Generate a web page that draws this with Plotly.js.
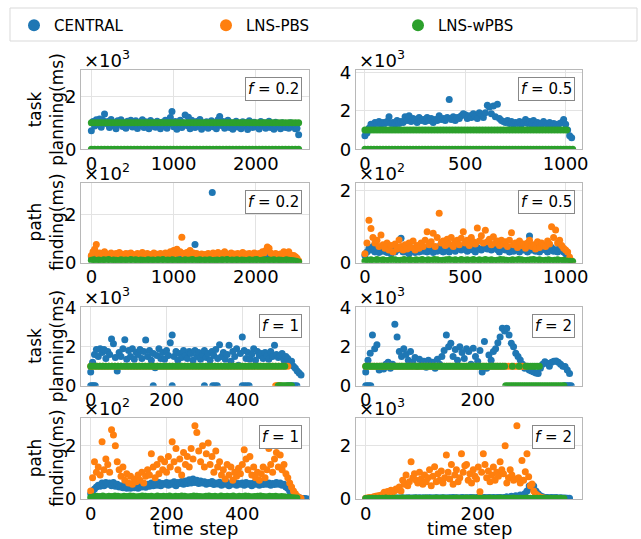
<!DOCTYPE html>
<html><head><meta charset="utf-8">
<script src="https://cdn.plot.ly/plotly-3.0.1.min.js"></script>
<style>html,body{margin:0;padding:0;background:#fff;}#chart{width:641px;height:539px;}</style>
</head><body><div id="chart"></div>
<script>
// ---------- DATA ----------
const seriesNames = ['CENTRAL', 'LNS-PBS', 'LNS-wPBS'];
const panelLabels = ['0.2', '0.5', '0.2', '0.5', '1', '2', '1', '2'];
const offsetTexts = ['×10<sup>3</sup>', '×10<sup>3</sup>', '×10<sup>2</sup>', '×10<sup>2</sup>', '×10<sup>3</sup>', '×10<sup>3</sup>', '×10<sup>2</sup>', '×10<sup>3</sup>'];
const rowTitles = ['task<br>planning(ms)', 'path<br>finding(ms)', 'task<br>planning(ms)', 'path<br>finding(ms)'];
const xTitle = 'time step';

const p1XTicks = [0, 1000, 2000];
const p2XTicks = [0, 500, 1000];
const p3XTicks = [0, 1000, 2000];
const p4XTicks = [0, 500, 1000];
const p5XTicks = [0, 200, 400];
const p6XTicks = [0, 200];
const p7XTicks = [0, 200, 400];
const p8XTicks = [0, 200];
const p1YTicks = [0, 2000], p1YText = ['0', '2'];
const p2YTicks = [0, 2000, 4000], p2YText = ['0', '2', '4'];
const p3YTicks = [0, 200], p3YText = ['0', '2'];
const p4YTicks = [0, 200], p4YText = ['0', '2'];
const p5YTicks = [0, 2000, 4000], p5YText = ['0', '2', '4'];
const p6YTicks = [0, 2000, 4000], p6YText = ['0', '2', '4'];
const p7YTicks = [0, 200], p7YText = ['0', '2'];
const p8YTicks = [0, 2000], p8YText = ['0', '2'];

// Panel 1: task planning, f=0.2 (time step 0..2520)
const p1Central = [700,1050,880,1120,950,1150,830,1100,1340,980,
1050,820,1130,900,1000,780,1080,950,1120,860,
1000,800,1060,920,1100,840,970,1080,790,1010,
900,1120,820,1040,950,780,1090,870,1000,830,
1060,920,780,1020,880,1100,800,960,1200,1430,
850,1050,760,980,1100,820,1000,1300,900,1210,
780,1100,950,820,1050,880,1130,760,990,870,
1040,800,960,1080,850,1000,780,1120,1240,900,
1050,800,950,1100,820,1000,760,960,1060,840,
980,780,1040,880,1000,750,1080,900,820,1020,
850,960,770,1050,880,1000,800,940,1060,820,
970,760,1020,860,940,780,1000,880,820,960,
800,1000,860,920,780,800,550];
const p1WpbsHigh = [1000,1000,1000,1000,1000,1000,1000,1000,1000,1000,
1000,1000,1000,1000,1000,1000,1000,1000,1000,1000,
1000,1000,1000,1000,1000,1000,1000,1000,1000,1000,
1000,1000,1000,1000,1000,1000,1000,1000,1000,1000,
1000,1000,1000,1000,1000,1000,1000,1000,1000,1000,
1000,1000,1000,1000,1000,1000,1000,1000,1000,1000,
1000,1000,1000,1000];
const p1WpbsLow = [0,0,0,0,0,0,0,0,0,0, 0,0,0,0,0,0,0,0,0,0, 0,0,0,0,0,0,0,0,0,0,
0,0,0,0,0,0,0,0,0,0, 0,0,0,0,0,0,0,0,0,0, 0,0,0,0,0,0,0,0,0,0, 0,0,0,0];

// Panel 2: task planning, f=0.5 (0..1040)
const p2Central = [700,850,1100,1300,1250,1400,1350,1450,1300,1400,
1350,1450,1700,1350,1400,1300,1500,1350,1450,1400,
1700,1500,1750,1450,1600,1550,1400,1650,1500,1550,
1450,1650,1500,1600,1400,1550,1500,1750,1550,1600,
1500,1650,2600,1550,1700,1500,1650,1600,1750,1850,
1800,1600,1750,1650,1850,1700,1600,1900,1800,1650,
1900,2300,2200,1850,2250,1700,2350,1600,1500,1450,
1400,1500,1350,1450,1300,1400,1350,1450,1300,1400,
1550,1350,1450,1300,1500,1250,1400,1350,1300,1450,
1350,1300,1400,1250,1350,1300,1200,1350,1400,1550,
1300,1000,700,600];
const p2WpbsHigh = [1000,1000,1000,1000,1000,1000,1000,1000,1000,1000,
1000,1000,1000,1000,1000,1000,1000,1000,1000,1000,
1000,1000,1000,1000,1000,1000,1000,1000,1000,1000,
1000,1000,1000,1000,1000,1000,1000,1000,1000,1000,
1000,1000,1000,1000,1000,1000,1000,1000,1000,1000,
1000,1000,1000,1000,1000,1000,1000,1000,1000,1000,
1000,1000,1000,1000,1000,1000,1000,1000];
const p2WpbsLow = [0,0,0,0,0,0,0,0,0,0, 0,0,0,0,0,0,0,0,0,0, 0,0,0,0,0,0,0,0,0,0,
0,0,0,0,0,0,0,0,0,0, 0,0,0,0,0,0,0,0,0,0, 0,0,0,0,0,0,0,0,0,0, 0,0,0,0,0,0,0,0,0,0];

// Panel 3: path finding, f=0.2 (0..2520)
const p3Central = [25,30,22,28,35,24,30,26,32,22,
28,34,25,30,22,36,27,30,24,32,
28,25,33,30,26,22,35,28,30,25,
32,27,24,30,50,28,33,26,30,24,
28,30,75,25,30,27,22,34,26,290,
30,25,28,32,24,30,35,27,25,30,
28,33,24,30,26,32,28,35,25,30,
27,24,32,28,30,26,33,25,28,30,
24,27,22,15,5];
const p3Pbs = [30,45,55,75,35,40,28,38,45,30,
35,28,40,32,25,38,30,42,28,35,
30,38,26,35,40,28,33,30,38,25,
35,42,28,32,38,26,34,30,40,28,
35,30,38,28,32,40,30,36,45,40,
50,35,55,40,45,105,38,30,42,35,
50,35,40,28,38,32,30,36,28,34,
30,38,28,35,40,30,32,42,28,35,
38,45,30,35,28,40,32,36,30,38,
28,35,42,30,36,28,38,32,30,40,
35,30,38,28,45,40,50,65,60,40,
35,30,38,28,32,36,30,45,35,30,
45,32,28,30,25,18,8];
const p3Wpbs = [10,12,9,11,8,12,10,13,9,11,
10,8,12,10,11,9,13,10,12,9,
11,10,8,12,10,11,9,12,10,13,
9,11,10,12,8,11,10,9,12,10,
11,13,9,10,12,8,11,10,12,9,
10,11,9,12,10,13,9,11,10,12,
8,11,10,9,12,10,11,13,9,10,
12,9,11,10,12,8,11,10,9,12,
10,9,8,6,3];

// Panel 4: path finding, f=0.5 (0..1040)
const p4Central = [20,30,40,35,45,30,38,28,42,32,
35,28,40,25,38,30,35,42,68,30,
30,38,25,35,40,28,36,30,38,32,
40,30,35,42,28,38,32,45,35,30,
38,42,30,36,45,32,38,40,35,42,
38,32,45,36,40,30,42,38,35,40,
45,38,50,35,42,40,36,30,38,42,
35,40,30,38,32,42,36,30,38,35,
40,30,74,35,38,32,42,30,36,40,
35,30,38,42,32,36,30,40,35,30,
25,20,10,3];
const p4Pbs = [25,55,118,95,70,55,62,45,77,50,
40,55,35,48,30,52,38,63,45,35,
50,38,55,42,60,35,48,40,55,45,
62,86,50,58,82,45,70,137,55,60,
48,65,52,70,45,58,62,50,68,86,
55,62,48,70,58,52,96,60,75,55,
90,58,65,50,72,55,60,48,62,52,
58,45,62,83,50,55,42,60,48,52,
40,55,62,45,50,38,58,42,55,48,
45,60,52,100,70,91,55,62,48,40,
35,30,15,5];
const p4Wpbs = [5,7,8,6,9,7,8,6,7,9,
8,6,7,9,7,8,6,8,7,9,
6,8,7,9,8,6,7,8,9,7,
8,6,9,7,8,7,9,6,8,7,
9,7,8,6,7,9,8,7,6,8,
7,9,8,6,7,8,9,7,8,6,
7,8,6,7,8,6,7,5,4,3];

// Panel 5: task planning, f=1 (0..555)
const p5Central = [700,1200,1600,1850,1500,1900,1700,1850,1400,1750,
1600,2400,2150,1450,750,1700,1500,1900,2350,1350,
1800,1500,1900,1350,1700,1600,1850,1400,1750,2340,
1500,1800,1300,1650,925,1550,1900,1400,1700,1350,
1800,1550,2200,2600,1500,1750,1300,1650,1450,1800,
1550,1400,1750,1650,1300,1800,1500,1700,1350,1600,
1800,1450,1650,1300,1750,1550,1850,1400,2100,1500,
1700,1350,1600,2070,1250,1750,1500,1900,1050,1650,
2500,1800,1400,1700,1350,1600,1900,1300,1750,1550,
1650,1400,1700,1550,1350,1750,1500,2070,1600,1450,
1550,1650,1300,1500,1400,1200,1250,1000,900,750,650,550];
const p5CentralZeroSteps = [0,4,8,12,165,215,300,322,328,334,400,406,412,418,520,526,532,538,544];
const p5CentralZeroVals = [0,0,0,0,0,0,0,0,0,0,0,0,0,0,0,0,0,0,0];
const p5PbsHigh = [1000,1000,1000,1000,1000,1000,1000,1000,1000,1000,
1000,1000,1000,1000,1000,1000,1000,1000,1000,1000,
1000,1000,1000,1000,1000,1000,1000,1000,1000,1000,
1000,1000,1000,1000,1000,1000,1000,1000,1000,1000,
1000,1000,1000,1000,1000,1000,1000,1000,1000,1000,
1000,1000,1000,1000,1000,1000,1000,1000,1000,1000,
1000,1000,1000,1000,1000,1000];
const p5PbsLow = [0,0,0,0];
const p5WpbsHigh = [1000,1000,1000,1000,1000,1000,1000,1000,1000,1000,
1000,1000,1000,1000,1000,1000,1000,1000,1000,1000,
1000,1000,1000,1000,1000,1000,1000,1000,1000,1000,
1000,1000,1000,1000,1000,1000,1000,1000,1000,1000,
1000,1000,1000,1000,1000,1000,1000,1000,1000,1000,
1000,1000,1000,1000,1000,1000,1000,1000,1000,1000,
1000,1000,1000,1000,1000];
const p5WpbsLow = [0,0,0,0,0,0,0,0];

// Panel 6: task planning, f=2 (0..368)
const p6Central = [700,1300,1660,2600,1900,2100,800,1000,850,1100,
1200,900,1100,3150,2500,1750,1500,1900,1600,1300,
1750,1200,1450,1000,1350,1100,1250,950,1300,1050,
1200,900,1350,1100,1500,1800,2600,2000,2170,1500,
1850,1300,2000,1700,1400,1900,1750,1100,1920,1500,
1240,1800,700,2260,890,1570,1300,1750,1900,2200,
2500,2940,2800,2940,2600,2170,2000,1660,1500,1320,
1100,890,1000,800,750,700,650,630,900,1100,
1230,1150,1000,1200,1250,1260,1200,1100,1000,980,
800,630];
const p6CentralZeroSteps = [0,3,6,9,355,358,361,364,367];
const p6CentralZeroVals = [0,0,0,0,0,0,0,0,0];
const p6PbsHigh = [1000,1000,1000,1000,1000,1000,1000,1000,1000,1000,
1000,1000,1000,1000,1000,1000,1000,1000,1000,1000,
1000,1000,1000,1000,1000,1000,1000,1000,1000,1000,
1000,1000,1000,1000,1000,1000,1000,1000,1000,1000,
1000,1000,1000,1000,1000,1000,1000,1000,1000,1000,
1000,1000,1000,1000,1000,1000,1000,1000];
const p6WpbsHighA = [1000,1000,1000,1000,1000,1000,1000,1000,1000,1000,
1000,1000,1000,1000,1000,1000,1000,1000,1000,1000,
1000,1000,1000,1000,1000,1000,1000,1000,1000,1000,
1000,1000,1000,1000,1000,1000,1000,1000,1000,1000,
1000,1000,1000,1000,1000,1000,1000,1000,1000,1000,
1000,1000,1000,1000,1000,1000,1000,1000,1000,1000,
1000,1000,1000];
const p6WpbsMidSteps = [262, 274];
const p6WpbsMidVals = [1000, 1000];
const p6WpbsHighB = [1000,1000,1000,1000,1000,1000,1000];
const p6WpbsLow = [0,0,0,0,0,0,0,0,0,0, 0,0,0,0,0,0,0,0,0,0, 0,0,0,0,0,0,0];

// Panel 7: path finding, f=1 (0..570)
const p7Central = [20,30,38,45,52,48,60,50,62,55,
60,50,62,48,55,45,50,42,48,40,
48,40,45,42,50,40,48,45,52,44,
55,48,60,50,58,52,62,50,58,55,
62,52,60,55,65,50,62,58,66,55,
68,58,72,60,75,62,70,58,68,60,
65,55,62,58,66,54,60,56,63,52,
60,55,62,50,58,55,62,52,58,55,
60,52,62,55,58,50,60,55,62,52,
58,54,62,55,60,52,58,54,62,55,
60,52,55,45,40,30,25,18,12,8,5,3,2,2,1];
const p7Pbs = [30,80,140,100,120,90,215,110,150,130,
100,260,240,200,140,110,85,120,70,95,
60,85,55,75,65,90,70,100,60,85,
110,90,170,120,80,130,95,150,110,140,
100,160,120,215,140,190,110,150,90,175,
130,160,120,190,150,275,250,180,140,200,
120,170,210,130,160,100,180,120,140,90,
110,75,130,90,120,70,100,85,115,95,
130,185,150,110,160,90,120,80,100,70,
95,120,80,110,190,130,100,150,175,120,
165,110,130,95,80,60,45,30,20,10,5,3];
const p7Wpbs = [6,8,10,9,11,8,10,9,11,10,
8,10,9,11,10,8,9,11,10,9,
10,8,11,9,10,9,11,8,10,9,
11,10,8,9,11,10,9,8,10,11,
9,10,8,11,9,10,9,11,8,10,
9,11,10,8,9,10,11,9,8,10,
9,10,8,9,8,7,6,5,4];

// Panel 8: path finding, f=2 (0..364)
const p8Central = [20,30,25,35,30,40,35,30,40,35,
40,35,45,30,40,35,45,40,35,45,
40,35,45,40,50,35,45,40,50,45,
40,50,45,40,50,45,40,50,45,55,
45,50,40,55,45,50,45,55,50,45,
55,50,45,55,50,60,45,55,50,60,
55,50,60,80,55,100,60,120,80,150,
100,200,300,487,400,487,300,200,120,80,
60,55,50,60,45,55,40,50,35,40,30,25];
const p8Pbs = [30,40,50,60,70,80,100,110,120,140,
160,250,190,280,220,330,260,300,380,350,
450,300,700,550,900,500,650,1400,800,950,
700,600,1000,750,550,900,650,800,1100,500,
850,1210,650,950,700,1050,600,800,1650,1000,
750,1300,550,900,1100,650,800,1700,1000,1250,
1300,700,950,600,1100,850,750,1200,275,1000,
1700,1300,800,1050,650,900,1200,700,1000,850,
1400,1100,950,2000,600,800,1100,900,700,750,
2750,800,600,1450,700,1025,1700,838,500,562,
300,200,150,100,70,50,40];
const p8Wpbs = [20,25,30,28,32,30,35,30,28,33,
30,35,28,32,30,34,29,31,35,30,
28,33,30,35,29,32,30,34,28,31,
33,30,35,29,32,30,28,34,31,30,
35,29,32,30,33,28,31,30,34,29,
32,30,28,31,30,27,29,26,25,22];

// ---------- STYLE / LAYOUT ----------
const W = 641, H = 539;
const COLORS = ['#1f77b4', '#ff7f0e', '#2ca02c'];
const colPx = [[81, 309], [355.7, 582.3]];
const rowPx = [[70, 149.3], [182.7, 262.7], [306.7, 385.7], [418.3, 499]];
const xRanges = [[-126, 2646], [-46, 1083], [-126, 2646], [-46, 1083], [-25.6, 576], [-17.9, 386.8], [-25.6, 576], [-17.9, 386.8]];
const yRanges = [[0, 3000], [0, 4130], [0, 330], [0, 222], [0, 4050], [0, 4050], [0, 303], [0, 3030]];
const xTickSets = [p1XTicks, p2XTicks, p3XTicks, p4XTicks, p5XTicks, p6XTicks, p7XTicks, p8XTicks];
const yTickSets = [[p1YTicks, p1YText], [p2YTicks, p2YText], [p3YTicks, p3YText], [p4YTicks, p4YText],
                   [p5YTicks, p5YText], [p6YTicks, p6YText], [p7YTicks, p7YText], [p8YTicks, p8YText]];
const TICK_FONT = 18;

const traces = [];
function add(panel, s, y, opt) {
  const sfx = panel === 1 ? '' : String(panel);
  const t = {
    type: 'scatter', mode: 'markers', xaxis: 'x' + sfx, yaxis: 'y' + sfx,
    y: y, name: seriesNames[s], legendgroup: seriesNames[s], showlegend: false,
    marker: { color: COLORS[s], size: 7, line: { width: 0 } }, hoverinfo: 'skip'
  };
  if (opt.x) t.x = opt.x; else { t.x0 = opt.x0; t.dx = opt.dx; }
  if (opt.legend) { t.showlegend = true; t.legendrank = s + 1; }
  traces.push(t);
}
// Panel 1
add(1, 0, p1Central, { x0: 0, dx: 20 });
add(1, 2, p1WpbsHigh, { x0: 0, dx: 40 });
add(1, 2, p1WpbsLow, { x0: 0, dx: 40 });
// Panel 2
add(2, 0, p2Central, { x0: 0, dx: 10 });
add(2, 2, p2WpbsHigh, { x0: 0, dx: 15 });
add(2, 2, p2WpbsLow, { x0: 0, dx: 15 });
// Panel 3
add(3, 0, p3Central, { x0: 0, dx: 30, legend: true });
add(3, 1, p3Pbs, { x0: 0, dx: 20, legend: true });
add(3, 2, p3Wpbs, { x0: 0, dx: 30, legend: true });
// Panel 4
add(4, 0, p4Central, { x0: 0, dx: 10 });
add(4, 1, p4Pbs, { x0: 0, dx: 10 });
add(4, 2, p4Wpbs, { x0: 0, dx: 15 });
// Panel 5
add(5, 0, p5Central, { x0: 0, dx: 5 });
add(5, 0, p5CentralZeroVals, { x: p5CentralZeroSteps });
add(5, 1, p5PbsHigh, { x0: 0, dx: 8 });
add(5, 1, p5PbsLow, { x0: 488, dx: 4 });
add(5, 2, p5WpbsHigh, { x0: 0, dx: 8 });
add(5, 2, p5WpbsLow, { x0: 495, dx: 5 });
// Panel 6
add(6, 0, p6Central, { x0: 0, dx: 4 });
add(6, 0, p6CentralZeroVals, { x: p6CentralZeroSteps });
add(6, 1, p6PbsHigh, { x0: 0, dx: 5 });
add(6, 2, p6WpbsHighA, { x0: 0, dx: 4 });
add(6, 2, p6WpbsMidVals, { x: p6WpbsMidSteps });
add(6, 2, p6WpbsHighB, { x0: 286, dx: 4 });
add(6, 2, p6WpbsLow, { x0: 250, dx: 4 });
// Panel 7
add(7, 0, p7Central, { x0: 0, dx: 5 });
add(7, 1, p7Pbs, { x0: 0, dx: 5 });
add(7, 2, p7Wpbs, { x0: 0, dx: 8 });
// Panel 8
add(8, 0, p8Central, { x0: 0, dx: 4 });
add(8, 1, p8Pbs, { x0: 0, dx: 3 });
add(8, 2, p8Wpbs, { x0: 0, dx: 6 });

const layout = {
  width: W, height: H, margin: { l: 0, r: 0, t: 0, b: 0 },
  paper_bgcolor: '#fff', plot_bgcolor: '#fff',
  font: { family: 'DejaVu Sans', size: 17, color: '#000' },
  showlegend: true,
  legend: {
    orientation: 'h', x: 14 / W, y: 1 - 9 / H, xanchor: 'left', yanchor: 'top',
    bgcolor: 'rgba(0,0,0,0)', borderwidth: 0, font: { size: 15, color: '#000' },
    itemsizing: 'constant', entrywidth: 147, entrywidthmode: 'pixels', traceorder: 'normal'
  },
  shapes: [{
    type: 'rect', xref: 'paper', yref: 'paper', x0: 10 / W, x1: 637 / W, y0: 1 - 41 / H, y1: 1 - 8 / H,
    line: { color: '#d9d9d9', width: 1 }, fillcolor: 'rgba(0,0,0,0)', layer: 'below'
  }],
  annotations: []
};

for (let p = 0; p < 8; p++) {
  const r = Math.floor(p / 2), c = p % 2;
  const sfx = p === 0 ? '' : String(p + 1);
  const xd = [colPx[c][0] / W, colPx[c][1] / W];
  const yd = [1 - rowPx[r][1] / H, 1 - rowPx[r][0] / H];
  const common = {
    showgrid: true, gridcolor: '#e3e3e3', gridwidth: 1, zeroline: false,
    showline: true, mirror: true, linecolor: '#b8b8b8', linewidth: 1,
    tickmode: 'array', tickfont: { size: TICK_FONT, color: '#000' }, fixedrange: true, ticks: ''
  };
  layout['xaxis' + sfx] = Object.assign({}, common, {
    domain: xd, range: xRanges[p], anchor: 'y' + sfx, ticklabelstandoff: -2,
    tickvals: xTickSets[p], ticktext: xTickSets[p].map(String)
  });
  layout['yaxis' + sfx] = Object.assign({}, common, {
    domain: yd, range: yRanges[p], anchor: 'x' + sfx,
    tickvals: yTickSets[p][0], ticktext: yTickSets[p][1]
  });
  // offset text
  layout.annotations.push({
    xref: 'paper', yref: 'paper', x: (colPx[c][0] + 1) / W, y: yd[1], xanchor: 'left', yanchor: 'bottom',
    yshift: -3, text: offsetTexts[p], showarrow: false, font: { size: 18, color: '#000' }
  });
  // f label box
  layout.annotations.push({
    xref: 'paper', yref: 'paper', x: (colPx[c][1] - 7) / W, y: 1 - (rowPx[r][0] + 7) / H,
    xanchor: 'right', yanchor: 'top', text: '<i>f</i> = ' + panelLabels[p], showarrow: false,
    font: { size: 15, color: '#000' }, bgcolor: '#fff', bordercolor: '#888', borderwidth: 1, borderpad: 2
  });
}
// row titles
for (let r = 0; r < 4; r++) {
  layout.annotations.push({
    xref: 'paper', yref: 'paper', x: 46 / W, y: 1 - ((rowPx[r][0] + rowPx[r][1]) / 2) / H,
    xanchor: 'center', yanchor: 'middle', textangle: -90, text: rowTitles[r], showarrow: false,
    font: { size: 17, color: '#000' }
  });
}
// x titles
for (let c = 0; c < 2; c++) {
  layout.annotations.push({
    xref: 'paper', yref: 'paper', x: ((colPx[c][0] + colPx[c][1]) / 2) / W, y: 0,
    xanchor: 'center', yanchor: 'bottom', yshift: -2, text: xTitle, showarrow: false, font: { size: 18, color: '#000' }
  });
}

Plotly.newPlot('chart', traces, layout, { staticPlot: true, displayModeBar: false });
</script>
</body></html>
